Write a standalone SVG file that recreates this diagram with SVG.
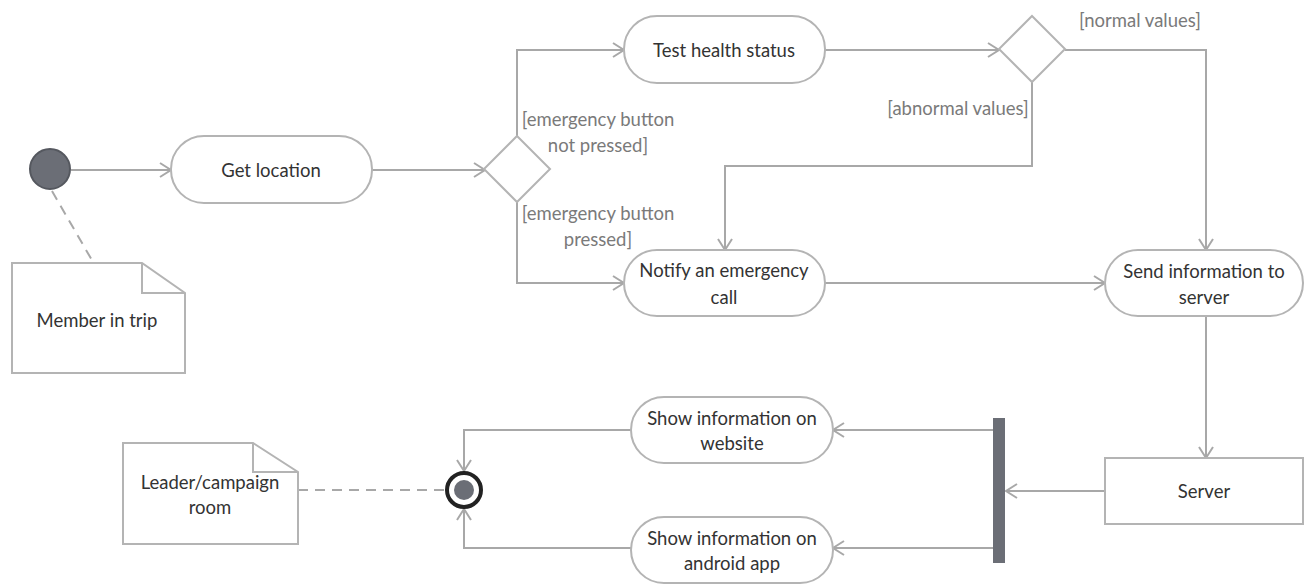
<svg xmlns="http://www.w3.org/2000/svg" width="1305" height="586" viewBox="0 0 1305 586">
<style>
.node{fill:#fff;stroke:#b4b4b4;stroke-width:2}
.lbl{font-family:Lato,"Open Sans","Liberation Sans",sans-serif;font-size:18.5px;fill:#333;text-anchor:middle;dominant-baseline:central}
.grd{font-family:Lato,"Open Sans","Liberation Sans",sans-serif;font-size:18.5px;fill:#7a7a7a;text-anchor:middle;dominant-baseline:central}
.con{fill:none;stroke:#a8a8a8;stroke-width:2}
.dash{fill:none;stroke:#a8a8a8;stroke-width:2;stroke-dasharray:10 7}
</style>
<defs>
<marker id="arr" markerUnits="userSpaceOnUse" markerWidth="14" markerHeight="18" refX="12" refY="8" orient="auto">
<path d="M1,1 L12,8 L1,15" fill="none" stroke="#a8a8a8" stroke-width="2"/>
</marker>
</defs>
<rect width="1305" height="586" fill="#fff"/>
<g id="connectors">
<path class="con" d="M71,170 H171" marker-end="url(#arr)"/>
<path class="con" d="M372,170 H485" marker-end="url(#arr)"/>
<path class="con" d="M517,137 V50 H624" marker-end="url(#arr)"/>
<path class="con" d="M517,202 V283 H624" marker-end="url(#arr)"/>
<path class="con" d="M825,50 H999" marker-end="url(#arr)"/>
<path class="con" d="M1065,50 H1206 V250" marker-end="url(#arr)"/>
<path class="con" d="M1032,82 V166 H725 V250" marker-end="url(#arr)"/>
<path class="con" d="M825,283 H1105" marker-end="url(#arr)"/>
<path class="con" d="M1206,316 V458" marker-end="url(#arr)"/>
<path class="con" d="M1105,491 H1006" marker-end="url(#arr)"/>
<path class="con" d="M993,430 H833" marker-end="url(#arr)"/>
<path class="con" d="M993,548 H833" marker-end="url(#arr)"/>
<path class="con" d="M631,430 H464 V471" marker-end="url(#arr)"/>
<path class="con" d="M631,548 H464 V509" marker-end="url(#arr)"/>
<path class="dash" d="M52,191 L93,262"/>
<path class="dash" d="M298,490 H445"/>
<text class="grd" x="598" y="119">[emergency button</text>
<text class="grd" x="598" y="145">not pressed]</text>
<text class="grd" x="598" y="213">[emergency button</text>
<text class="grd" x="598" y="239">pressed]</text>
<text class="grd" x="1140" y="20">[normal values]</text>
<text class="grd" x="958" y="108">[abnormal values]</text>
</g>
<g id="start"><circle cx="50" cy="169" r="20" fill="#6b6e76" stroke="#55585f" stroke-width="2"/></g>
<g id="note-member">
<path class="node" d="M12,263 H142 L185,293 V373 H12 Z"/>
<path fill="none" stroke="#b4b4b4" stroke-width="2" d="M142,263 V293 H185"/>
<text class="lbl" x="97" y="320">Member in trip</text>
</g>
<g id="get-location"><rect class="node" x="171" y="136" width="201" height="67" rx="33"/><text class="lbl" x="271" y="170">Get location</text></g>
<g id="decision1"><path class="node" d="M517,136 L550,169 L517,202 L484,169 Z"/></g>
<g id="test-health"><rect class="node" x="624" y="16" width="201" height="67" rx="33"/><text class="lbl" x="724" y="50">Test health status</text></g>
<g id="decision2"><path class="node" d="M1032,16 L1065,49 L1032,82 L999,49 Z"/></g>
<g id="notify"><rect class="node" x="624" y="250" width="201" height="66" rx="33"/><text class="lbl" x="724" y="270">Notify an emergency</text><text class="lbl" x="724" y="297">call</text></g>
<g id="send-info"><rect class="node" x="1105" y="250" width="198" height="66" rx="33"/><text class="lbl" x="1204" y="271">Send information to</text><text class="lbl" x="1204" y="297">server</text></g>
<g id="server"><rect class="node" x="1105" y="458" width="198" height="66"/><text class="lbl" x="1204" y="491">Server</text></g>
<g id="fork"><rect x="993" y="418" width="12" height="145" fill="#6b6e76"/></g>
<g id="show-website"><rect class="node" x="631" y="397" width="202" height="66" rx="33"/><text class="lbl" x="732" y="418">Show information on</text><text class="lbl" x="732" y="443">website</text></g>
<g id="show-android"><rect class="node" x="631" y="517" width="202" height="66" rx="33"/><text class="lbl" x="732" y="538">Show information on</text><text class="lbl" x="732" y="563">android app</text></g>
<g id="final"><circle cx="464" cy="490" r="17" fill="#fff" stroke="#222" stroke-width="4"/><circle cx="464" cy="490" r="10" fill="#6b6e76"/></g>
<g id="note-leader">
<path class="node" d="M123,443 H253 L298,472 V544 H123 Z"/>
<path fill="none" stroke="#b4b4b4" stroke-width="2" d="M253,443 V472 H298"/>
<text class="lbl" x="210" y="482">Leader/campaign</text>
<text class="lbl" x="210" y="507">room</text>
</g>
</svg>
